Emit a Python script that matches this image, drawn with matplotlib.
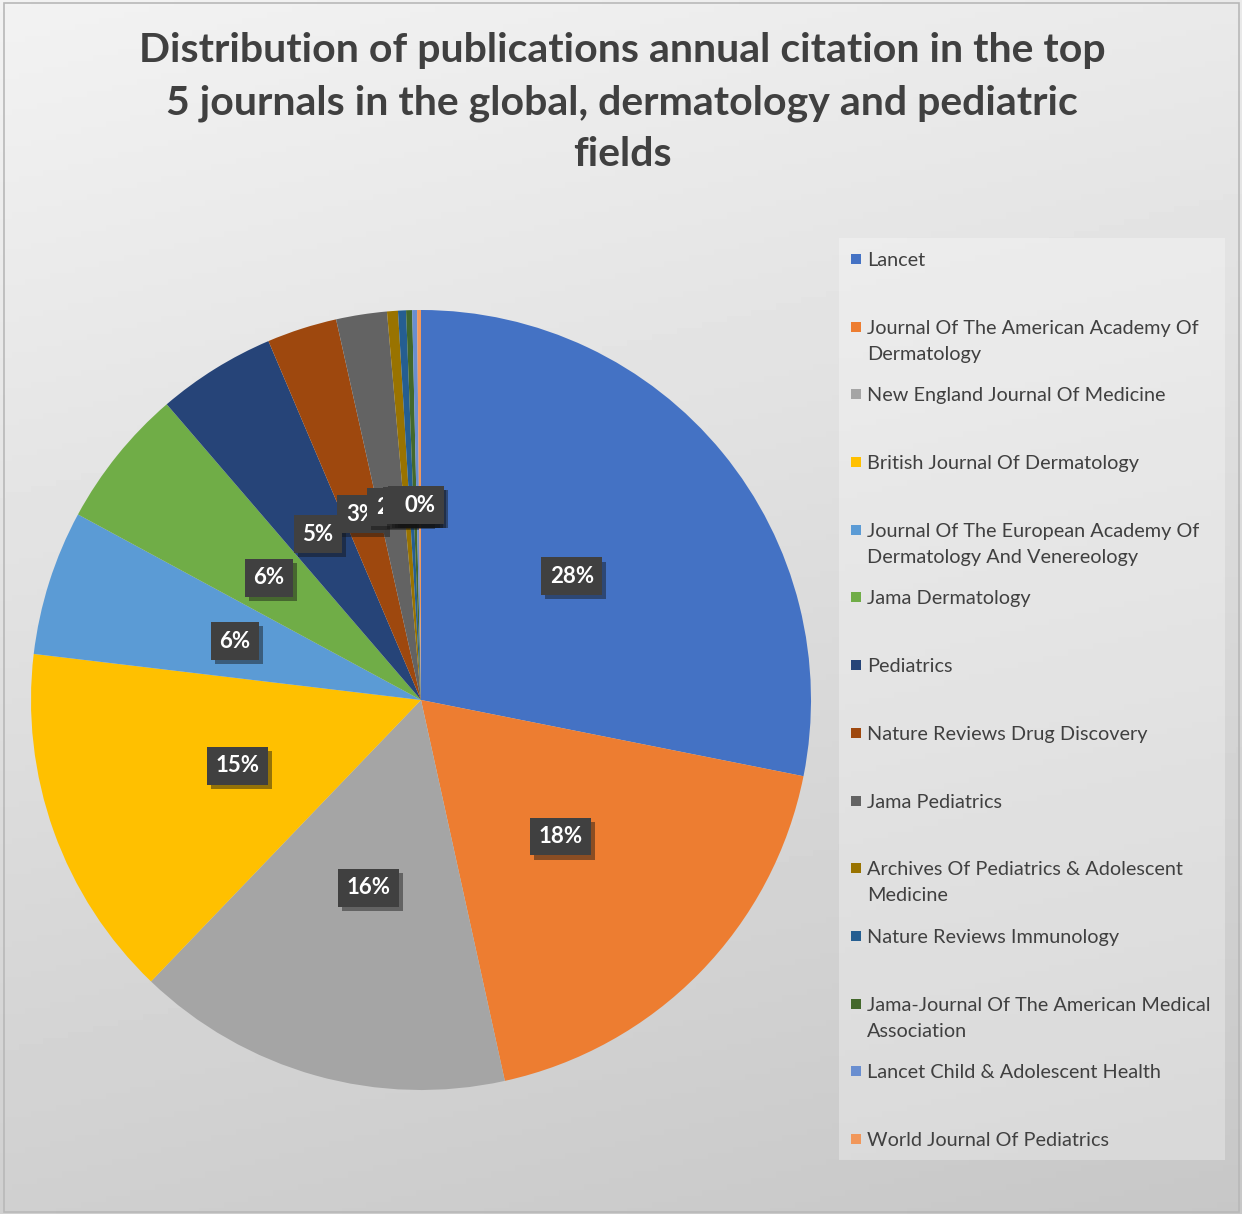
import numpy as np
import matplotlib
matplotlib.use("Agg")
import matplotlib.pyplot as plt
from matplotlib.patches import Rectangle
import matplotlib.patheffects as pe

# journals and their share of annual citations (%)
journals = [
    "Lancet",
    "Journal Of The American Academy Of\nDermatology",
    "New England Journal Of Medicine",
    "British Journal Of Dermatology",
    "Journal Of The European Academy Of\nDermatology And Venereology",
    "Jama Dermatology",
    "Pediatrics",
    "Nature Reviews Drug Discovery",
    "Jama Pediatrics",
    "Archives Of Pediatrics & Adolescent\nMedicine",
    "Nature Reviews Immunology",
    "Jama-Journal Of The American Medical\nAssociation",
    "Lancet Child & Adolescent Health",
    "World Journal Of Pediatrics",
]
shares = [28.1, 18.4, 15.6, 14.7, 6.0, 5.8, 4.9, 2.9, 2.1, 0.45, 0.33, 0.25, 0.2, 0.16]
colors = ["#4472C4", "#ED7D31", "#A5A5A5", "#FFC000", "#5B9BD5", "#70AD47",
          "#264478", "#9E480E", "#636363", "#997300", "#255E91", "#43682B",
          "#698ED0", "#F1975A"]

title = ("Distribution of publications annual citation in the top\n"
         "5 journals in the global, dermatology and pediatric\nfields")

W, H = 1242, 1214
fig = plt.figure(figsize=(W / 100, H / 100), dpi=100)

# background gradient
bg = fig.add_axes([0, 0, 1, 1])
yy, xx = np.mgrid[0:1:200j, 0:1:200j]
grad = 0.95 - 0.17 * (0.8 * yy + 0.2 * xx)
bg.imshow(grad, cmap="gray", vmin=0, vmax=1, extent=[0, 1, 0, 1],
          aspect="auto", origin="upper")
bg.set_xlim(0, 1)
bg.set_ylim(0, 1)
bg.axis("off")
bg.add_patch(Rectangle((4 / W, 1 - 1212 / H), 1235 / W, 1209 / H, fill=False,
                       edgecolor="#b8b8b8", linewidth=1.2))

# pie
cx, cy, r = 421, 700, 390
ax = fig.add_axes([(cx - r) / W, (H - cy - r) / H, 2 * r / W, 2 * r / H])
wedges, texts, autotexts = ax.pie(shares, colors=colors, startangle=90,
                                  counterclock=False, autopct="%.0f%%",
                                  pctdistance=0.5, labeldistance=None,
                                  wedgeprops=dict(linewidth=0))
ax.set_xlim(-1, 1)
ax.set_ylim(-1, 1)
for t in autotexts:
    t.set_color("white")
    t.set_fontfamily("Lato")
    t.set_fontweight("bold")
    t.set_fontsize(16)
    t.set_bbox(dict(boxstyle="square,pad=0.38", facecolor="#404040",
                    edgecolor="none"))
    t.get_bbox_patch().set_path_effects(
        [pe.withSimplePatchShadow(offset=(3, -3), alpha=0.45), pe.Normal()])

fig.text(622 / W, 1 - 32 / H, title, ha="center", va="top", fontsize=29.5,
         fontfamily="Lato", fontweight="bold", color="#404040",
         linespacing=1.5)

# legend
lx0, ly0, lx1, ly1 = 839, 238, 1225, 1160
bg.add_patch(Rectangle((lx0 / W, 1 - ly1 / H), (lx1 - lx0) / W, (ly1 - ly0) / H,
                       facecolor="white", alpha=0.3, edgecolor="none"))
step = (1139 - 259) / (len(journals) - 1)
for i, (name, c) in enumerate(zip(journals, colors)):
    yc = 259 + i * step
    bg.add_patch(Rectangle((851 / W, 1 - (yc + 5) / H), 10 / W, 10 / H,
                           facecolor=c, edgecolor="none"))
    fig.text(867 / W, 1 - (yc - 7) / H, name, ha="left", va="top",
             fontsize=14.3, fontfamily="Lato", color="#404040",
             linespacing=1.65)

fig.savefig("out.png", dpi=100)
